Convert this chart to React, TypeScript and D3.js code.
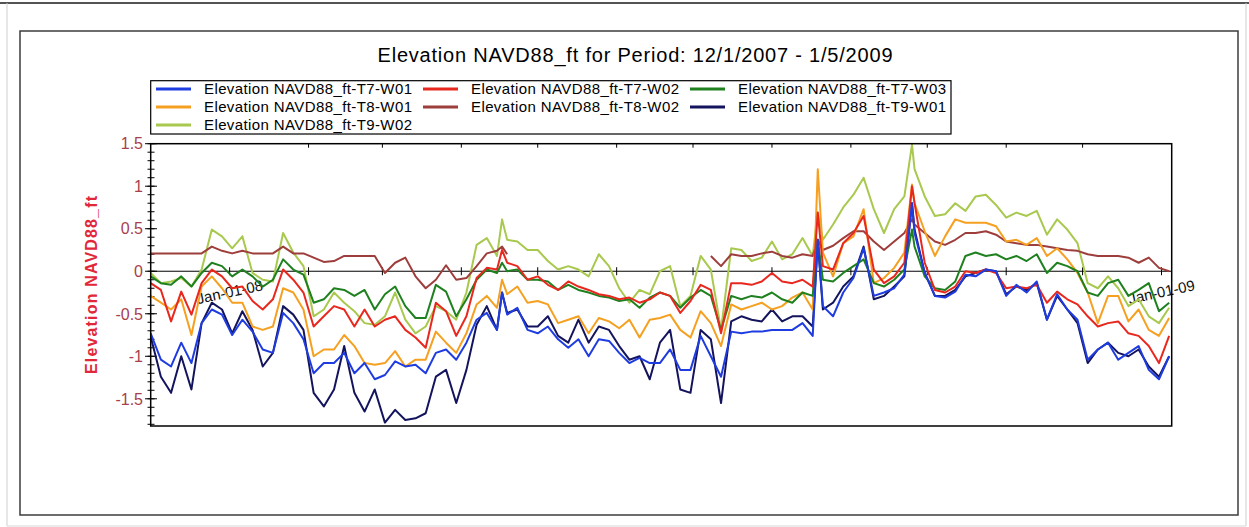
import React from "react";
import * as d3 from "d3";

// ---------- data ----------
const START_DATE = "2007-12-01";
const END_DATE = "2009-01-05";

// sample days counted from START_DATE
const DAY_OFFSETS = [
  0, 4, 8, 12, 16, 20, 24, 28, 32, 36, 40, 44, 48, 52, 56, 60, 64, 68, 72, 76, 80, 84, 88, 92, 96,
  100, 104, 108, 112, 116, 120, 124, 128, 132, 136, 138, 140, 144, 148, 152, 156, 160, 164, 168,
  172, 176, 180, 184, 188, 192, 196, 200, 204, 208, 212, 216, 220, 224, 228, 232, 236, 240, 244,
  248, 252, 256, 260, 262, 264, 268, 272, 276, 280, 284, 288, 292, 296, 299, 300, 304, 308, 312,
  316, 320, 324, 328, 332, 336, 340, 344, 348, 352, 356, 360, 364, 368, 372, 376, 380, 384, 388,
  392, 396, 400,
];

const T7_W01 = [
  -0.73, -1.04, -1.12, -0.84, -1.08, -0.61, -0.45, -0.51, -0.75, -0.57, -0.71,
  -0.92, -0.96, -0.49, -0.61, -0.8, -1.2, -1.08, -1.08, -0.96, -1.2, -1.08, -1.27, -1.22, -1.06, -1.12, -1.1,
  -1.2, -0.96, -0.92, -1.04, -0.84, -0.57, -0.49, -0.69,
  -0.25,
  -0.51, -0.43, -0.69, -0.73, -0.65, -0.8, -0.9, -0.8, -1.0, -0.8, -0.82, -0.96, -1.08, -1.02, -1.08, -1.08,
  -0.92, -1.16, -1.16, -0.76, -1.0, -1.24, -0.71, -0.73, -0.71, -0.71, -0.69, -0.69, -0.69, -0.61, -0.76,
  0.37,
  -0.41, -0.53, -0.25, -0.08, 0.27, -0.29, -0.25, -0.2, -0.04,
  0.8,
  0.45, -0.02, -0.29, -0.31, -0.24, -0.04, -0.06, 0.02, 0, -0.29, -0.16, -0.25, -0.12, -0.57, -0.27, -0.45,
  -0.57, -1.04, -0.92, -0.84, -1.04, -0.96, -0.88, -1.16, -1.27, -1.0,
];

const T7_W02 = [
  -0.14, -0.22, -0.59, -0.24, -0.51, -0.14, 0.02, -0.06, -0.2, -0.18, -0.35,
  -0.45, -0.33, 0.02, -0.1, -0.25, -0.65, -0.53, -0.41, -0.45, -0.65, -0.45, -0.65, -0.57, -0.53, -0.69, -0.78,
  -0.9, -0.37, -0.47, -0.76, -0.53, -0.08, 0.04, 0.02,
  0.25,
  0.1, 0.06, -0.1, -0.06, -0.16, -0.22, -0.12, -0.18, -0.22, -0.27, -0.29, -0.33, -0.31, -0.37, -0.33, -0.25,
  -0.29, -0.49, -0.35, -0.16, -0.22, -0.73, -0.14, -0.14, -0.16, -0.12, -0.02, -0.12, -0.14, -0.1, -0.18,
  0.69,
  0.06, 0.02, 0.33, 0.45, 0.65, 0.02, -0.14, -0.06, 0.1,
  1.0,
  0.8, 0.1, -0.22, -0.25, -0.18, 0, -0.02, 0.02, -0.02, -0.2, -0.18, -0.2, -0.16, -0.37, -0.24, -0.33,
  -0.39, -0.53, -0.65, -0.61, -0.59, -0.73, -0.76, -0.88, -1.08, -0.76,
];

const T7_W03 = [
  -0.06, -0.14, -0.16, -0.06, -0.18, -0.02, 0.1, 0.06, -0.06, 0.02, -0.06,
  -0.18, -0.1, 0.14, 0.02, -0.04, -0.37, -0.33, -0.2, -0.22, -0.29, -0.22, -0.45, -0.27, -0.18, -0.41, -0.55,
  -0.55, -0.16, -0.24, -0.53, -0.33, -0.1, 0.02, -0.02,
  0.1,
  0, 0.02, -0.1, -0.1, -0.12, -0.22, -0.16, -0.22, -0.25, -0.29, -0.31, -0.35, -0.33, -0.43, -0.31, -0.25,
  -0.29, -0.43, -0.31, -0.22, -0.29, -0.69, -0.29, -0.33, -0.29, -0.31, -0.25, -0.33, -0.37, -0.25, -0.29,
  0.37,
  -0.1, -0.12, -0.02, 0.06, 0.14, -0.14, -0.18, -0.1, 0.02,
  0.49,
  0.29, -0.06, -0.2, -0.22, -0.12, 0.18, 0.22, 0.18, 0.2, 0.14, 0.18, 0.12, 0.2, -0.02, 0.1, 0.06,
  0, -0.25, -0.29, -0.14, -0.1, -0.29, -0.22, -0.14, -0.47, -0.37,
];

const T8_W01 = [
  -0.29, -0.37, -0.45, -0.33, -0.75, -0.18, -0.06, -0.2, -0.37, -0.37, -0.65,
  -0.69, -0.65, -0.2, -0.25, -0.45, -1.0, -0.92, -0.92, -0.75, -0.88, -1.08, -1.1, -1.08, -0.94, -1.12, -1.04,
  -1.04, -0.71, -0.84, -0.96, -0.73, -0.39, -0.29, -0.43,
  -0.1,
  -0.27, -0.18, -0.37, -0.35, -0.39, -0.61, -0.57, -0.53, -0.73, -0.55, -0.59, -0.67, -0.57, -0.78, -0.57, -0.55,
  -0.51, -0.69, -0.78, -0.47, -0.61, -0.88, -0.39, -0.45, -0.41, -0.37, -0.45, -0.41, -0.31, -0.25, -0.45,
  1.2,
  0.22, -0.06, 0.33, 0.41, 0.73, -0.14, -0.08, 0.04, 0.22,
  1.02,
  0.8, 0.47, 0.18, 0.41, 0.61, 0.57, 0.57, 0.57, 0.53, 0.35, 0.37, 0.31, 0.39, 0.18, 0.27, 0.14,
  -0.02, -0.25, -0.61, -0.29, -0.29, -0.59, -0.45, -0.69, -0.76, -0.55,
];

const T8_W02 = [
  0.21, 0.21, 0.21, 0.21, 0.21, 0.21, 0.29, 0.24, 0.21, 0.24, 0.21,
  0.21, 0.21, 0.29, 0.21, 0.21, 0.16, 0.11, 0.12, 0.18, 0.18, 0.18, 0.18, -0.02, 0.1, 0.16, -0.06,
  -0.2, -0.1, 0.07, -0.1, -0.08, 0.06, 0.21, 0.24,
  0.29,
  0.2, null, null, null, null, null, null, null, null, null, null, null, null, null, null, null,
  null, null, null, null, 0.18, 0.06, 0.2, 0.18, 0.18, 0.21, 0.23, 0.18, 0.16, 0.2, 0.18,
  0.37,
  0.25, 0.3, 0.39, 0.47, 0.47, 0.35, 0.25, 0.35, 0.45,
  0.61,
  0.55, 0.45, 0.35, 0.31, 0.37, 0.45, 0.45, 0.47, 0.43, 0.35, 0.33, 0.31, 0.31, 0.29, 0.27, 0.25,
  0.24, 0.2, 0.18, 0.18, 0.18, 0.16, 0.1, 0.16, 0.04, 0,
];

const T9_W01 = [
  -0.77, -1.24, -1.43, -1.0, -1.39, -0.61, -0.37, -0.45, -0.73, -0.47, -0.69,
  -1.12, -0.96, -0.41, -0.51, -0.69, -1.43, -1.59, -1.39, -0.88, -1.43, -1.65, -1.39, -1.78, -1.63, -1.75, -1.73,
  -1.67, -1.24, -1.16, -1.55, -1.16, -0.63, -0.41, -0.69,
  -0.25,
  -0.49, -0.45, -0.65, -0.65, -0.53, -0.76, -0.84, -0.57, -0.84, -0.65, -0.69, -0.88, -1.04, -1.0, -1.27, -0.84,
  -0.69, -1.39, -1.43, -0.69, -0.8, -1.55, -0.59, -0.53, -0.57, -0.59, -0.45, -0.59, -0.53, -0.53, -0.65,
  0.35,
  -0.45, -0.37, -0.18, -0.06, 0.29, -0.33, -0.29, -0.18, -0.06,
  0.8,
  0.49, -0.02, -0.29, -0.29, -0.22, -0.06, -0.02, 0.02, 0, -0.27, -0.18, -0.22, -0.14, -0.57, -0.29, -0.45,
  -0.61, -1.08, -0.92, -0.84, -0.96, -1.0, -0.92, -1.12, -1.24, -1.0,
];

const T9_W02 = [
  -0.02, -0.14, -0.12, -0.08, -0.18, 0.02, 0.49, 0.41, 0.27, 0.41, -0.02,
  -0.1, -0.12, 0.45, 0.22, 0.06, -0.53, -0.45, -0.25, -0.37, -0.47, -0.61, -0.63, -0.53, -0.25, -0.57, -0.73,
  -0.65, -0.41, -0.47, -0.57, -0.25, 0.31, 0.39, 0.18,
  0.61,
  0.37, 0.35, 0.25, 0.25, 0.12, 0.02, 0.06, 0.02, -0.06, 0.2, 0.06, -0.2, -0.37, -0.22, -0.27, 0,
  0.06, -0.41, -0.29, 0.18, 0.02, -0.69, 0.27, 0.25, 0.12, 0.16, 0.35, 0.14, 0.2, 0.39, 0.18,
  0.69,
  0.37, 0.55, 0.75, 0.9, 1.1, 0.73, 0.45, 0.73, 0.88,
  1.49,
  1.2, 0.88, 0.65, 0.67, 0.8, 0.71, 0.88, 0.9, 0.78, 0.63, 0.69, 0.65, 0.71, 0.43, 0.61, 0.49,
  0.33, -0.14, -0.2, -0.06, -0.2, -0.41, -0.33, -0.53, -0.61, -0.43,
];

const SERIES_NAMES = [
  "Elevation NAVD88_ft-T7-W01",
  "Elevation NAVD88_ft-T7-W02",
  "Elevation NAVD88_ft-T7-W03",
  "Elevation NAVD88_ft-T8-W01",
  "Elevation NAVD88_ft-T8-W02",
  "Elevation NAVD88_ft-T9-W01",
  "Elevation NAVD88_ft-T9-W02",
];
const SERIES_VALUES = [T7_W01, T7_W02, T7_W03, T8_W01, T8_W02, T9_W01, T9_W02];
const SERIES_COLORS = ["#1f3ce0", "#e8281e", "#1f801f", "#f5a020", "#9e3e3c", "#14145e", "#a8c94e"];

const Y_MAJOR_TICKS = [-1.5, -1, -0.5, 0, 0.5, 1, 1.5];
const Y_TICK_LABELS = ["-1.5", "-1", "-0.5", "0", "0.5", "1", "1.5"];

const TITLE = "Elevation NAVD88_ft for Period: 12/1/2007 - 1/5/2009";
const Y_TITLE = "Elevation NAVD88_ft";

// ---------- chart ----------
const FONT = "'Liberation Sans', Arial, Helvetica, sans-serif";

export default function App() {
  const parse = d3.timeParse("%Y-%m-%d");
  const start = parse(START_DATE) as Date;
  const end = parse(END_DATE) as Date;
  const dates = DAY_OFFSETS.map((d) => d3.timeDay.offset(start, d));

  const L = 150.7, R = 1171.7, T = 143.7, B = 426;
  const x = d3.scaleTime().domain([start, end]).range([L, R]);
  const y = d3.scaleLinear().domain([-1.82, 1.5]).range([B, T]);
  const y0 = y(0);

  const line = d3
    .line<number | null>()
    .defined((v) => v !== null && v !== undefined)
    .x((_, i) => x(dates[i]))
    .y((v) => y(v as number));

  const months = d3.timeMonth.range(d3.timeDay.offset(start, 1), end);
  const minorMonths = months.filter((m) => m.getMonth() !== 0);
  const yearTicks = months.filter((m) => m.getMonth() === 0);
  const yearFmt = d3.timeFormat("%b-%d-%y");

  const minorY = d3.range(-18, 16).map((v) => v / 10);

  const drawOrder = [6, 5, 4, 3, 2, 1, 0];

  const legendCols = [156, 423, 690];
  const legendRows = [89, 107, 125];

  return (
    <svg
      width={1249}
      height={527}
      style={{ position: "absolute", left: 0, top: 0, background: "#fff" }}
      fontFamily={FONT}
    >
      <defs>
        <clipPath id="plotClip">
          <rect x={L} y={T} width={R - L} height={B - T} />
        </clipPath>
      </defs>
      <rect x={0} y={0} width={1249} height={527} fill="#ffffff" />
      {/* outer frame */}
      <line x1={0} x2={1249} y1={3} y2={3} stroke="#1a1a1a" strokeWidth={1.6} />
      <line x1={7} x2={7} y1={3} y2={526} stroke="#cfcfcf" strokeWidth={1} />
      <line x1={1246} x2={1246} y1={3} y2={526} stroke="#cfcfcf" strokeWidth={1} />
      <line x1={7} x2={1246} y1={526} y2={526} stroke="#d8d8d8" strokeWidth={1} />
      {/* inner frame */}
      <rect x={20} y={31} width={1218} height={484} fill="none" stroke="#3c3c3c" strokeWidth={1.5} />

      {/* title */}
      <text x={635} y={62} fontSize={20} textAnchor="middle" fill="#000" textLength={515} lengthAdjust="spacing">
        {TITLE}
      </text>

      {/* legend */}
      <rect x={150.7} y={80.7} width={800.3} height={53.3} fill="#fff" stroke="#000" strokeWidth={1.2} />
      {SERIES_NAMES.map((name, i) => {
        const cx = legendCols[i % 3];
        const cy = legendRows[Math.floor(i / 3)];
        return (
          <g key={name}>
            <line x1={cx} x2={cx + 35} y1={cy} y2={cy} stroke={SERIES_COLORS[i]} strokeWidth={3} />
            <text x={cx + 48} y={cy} dy="0.36em" fontSize={15} fill="#000" textLength={208} lengthAdjust="spacing">
              {name}
            </text>
          </g>
        );
      })}

      {/* y title */}
      <text
        transform={`translate(91,285) rotate(-90)`}
        textAnchor="middle"
        dy="0.35em"
        fontSize={16}
        fontWeight="bold"
        fill="#e0283a"
        textLength={178}
        lengthAdjust="spacing"
      >
        {Y_TITLE}
      </text>

      {/* y ticks */}
      {minorY.map((v) => (
        <line key={"m" + v} x1={147.5} x2={154.5} y1={y(v)} y2={y(v)} stroke="#000" strokeWidth={1} />
      ))}
      {Y_MAJOR_TICKS.map((v, i) => (
        <g key={"M" + v}>
          <line x1={145} x2={157} y1={y(v)} y2={y(v)} stroke="#000" strokeWidth={1} />
          <text x={143} y={y(v)} dy="0.36em" textAnchor="end" fontSize={16} fill="#a8404c">
            {Y_TICK_LABELS[i]}
          </text>
        </g>
      ))}

      {/* year labels (drawn below lines) */}
      {yearTicks.map((m) => (
        <text
          key={"yl" + m.getTime()}
          transform={`translate(${x(m)},292) rotate(-12)`}
          textAnchor="middle"
          dy="0.35em"
          fontSize={15}
          fill="#111"
        >
          {yearFmt(m)}
        </text>
      ))}

      {/* zero axis */}
      <line x1={L} x2={R} y1={y0} y2={y0} stroke="#000" strokeWidth={1} />
      {months.map((m) => (
        <line key={"zt" + m.getTime()} x1={x(m)} x2={x(m)} y1={y0 - 4} y2={y0 + 4} stroke="#000" strokeWidth={1} />
      ))}
      {minorMonths.map((m) => (
        <line key={"tt" + m.getTime()} x1={x(m)} x2={x(m)} y1={T} y2={T + 4} stroke="#000" strokeWidth={1} />
      ))}

      {/* series */}
      <g clipPath="url(#plotClip)">
        {drawOrder.map((i) => (
          <path
            key={SERIES_NAMES[i]}
            d={line(SERIES_VALUES[i] as (number | null)[]) || ""}
            fill="none"
            stroke={SERIES_COLORS[i]}
            strokeWidth={2}
            strokeLinejoin="round"
          />
        ))}
      </g>

      {/* plot frame */}
      <rect x={L} y={T} width={R - L} height={B - T} fill="none" stroke="#000" strokeWidth={1.5} />
    </svg>
  );
}
